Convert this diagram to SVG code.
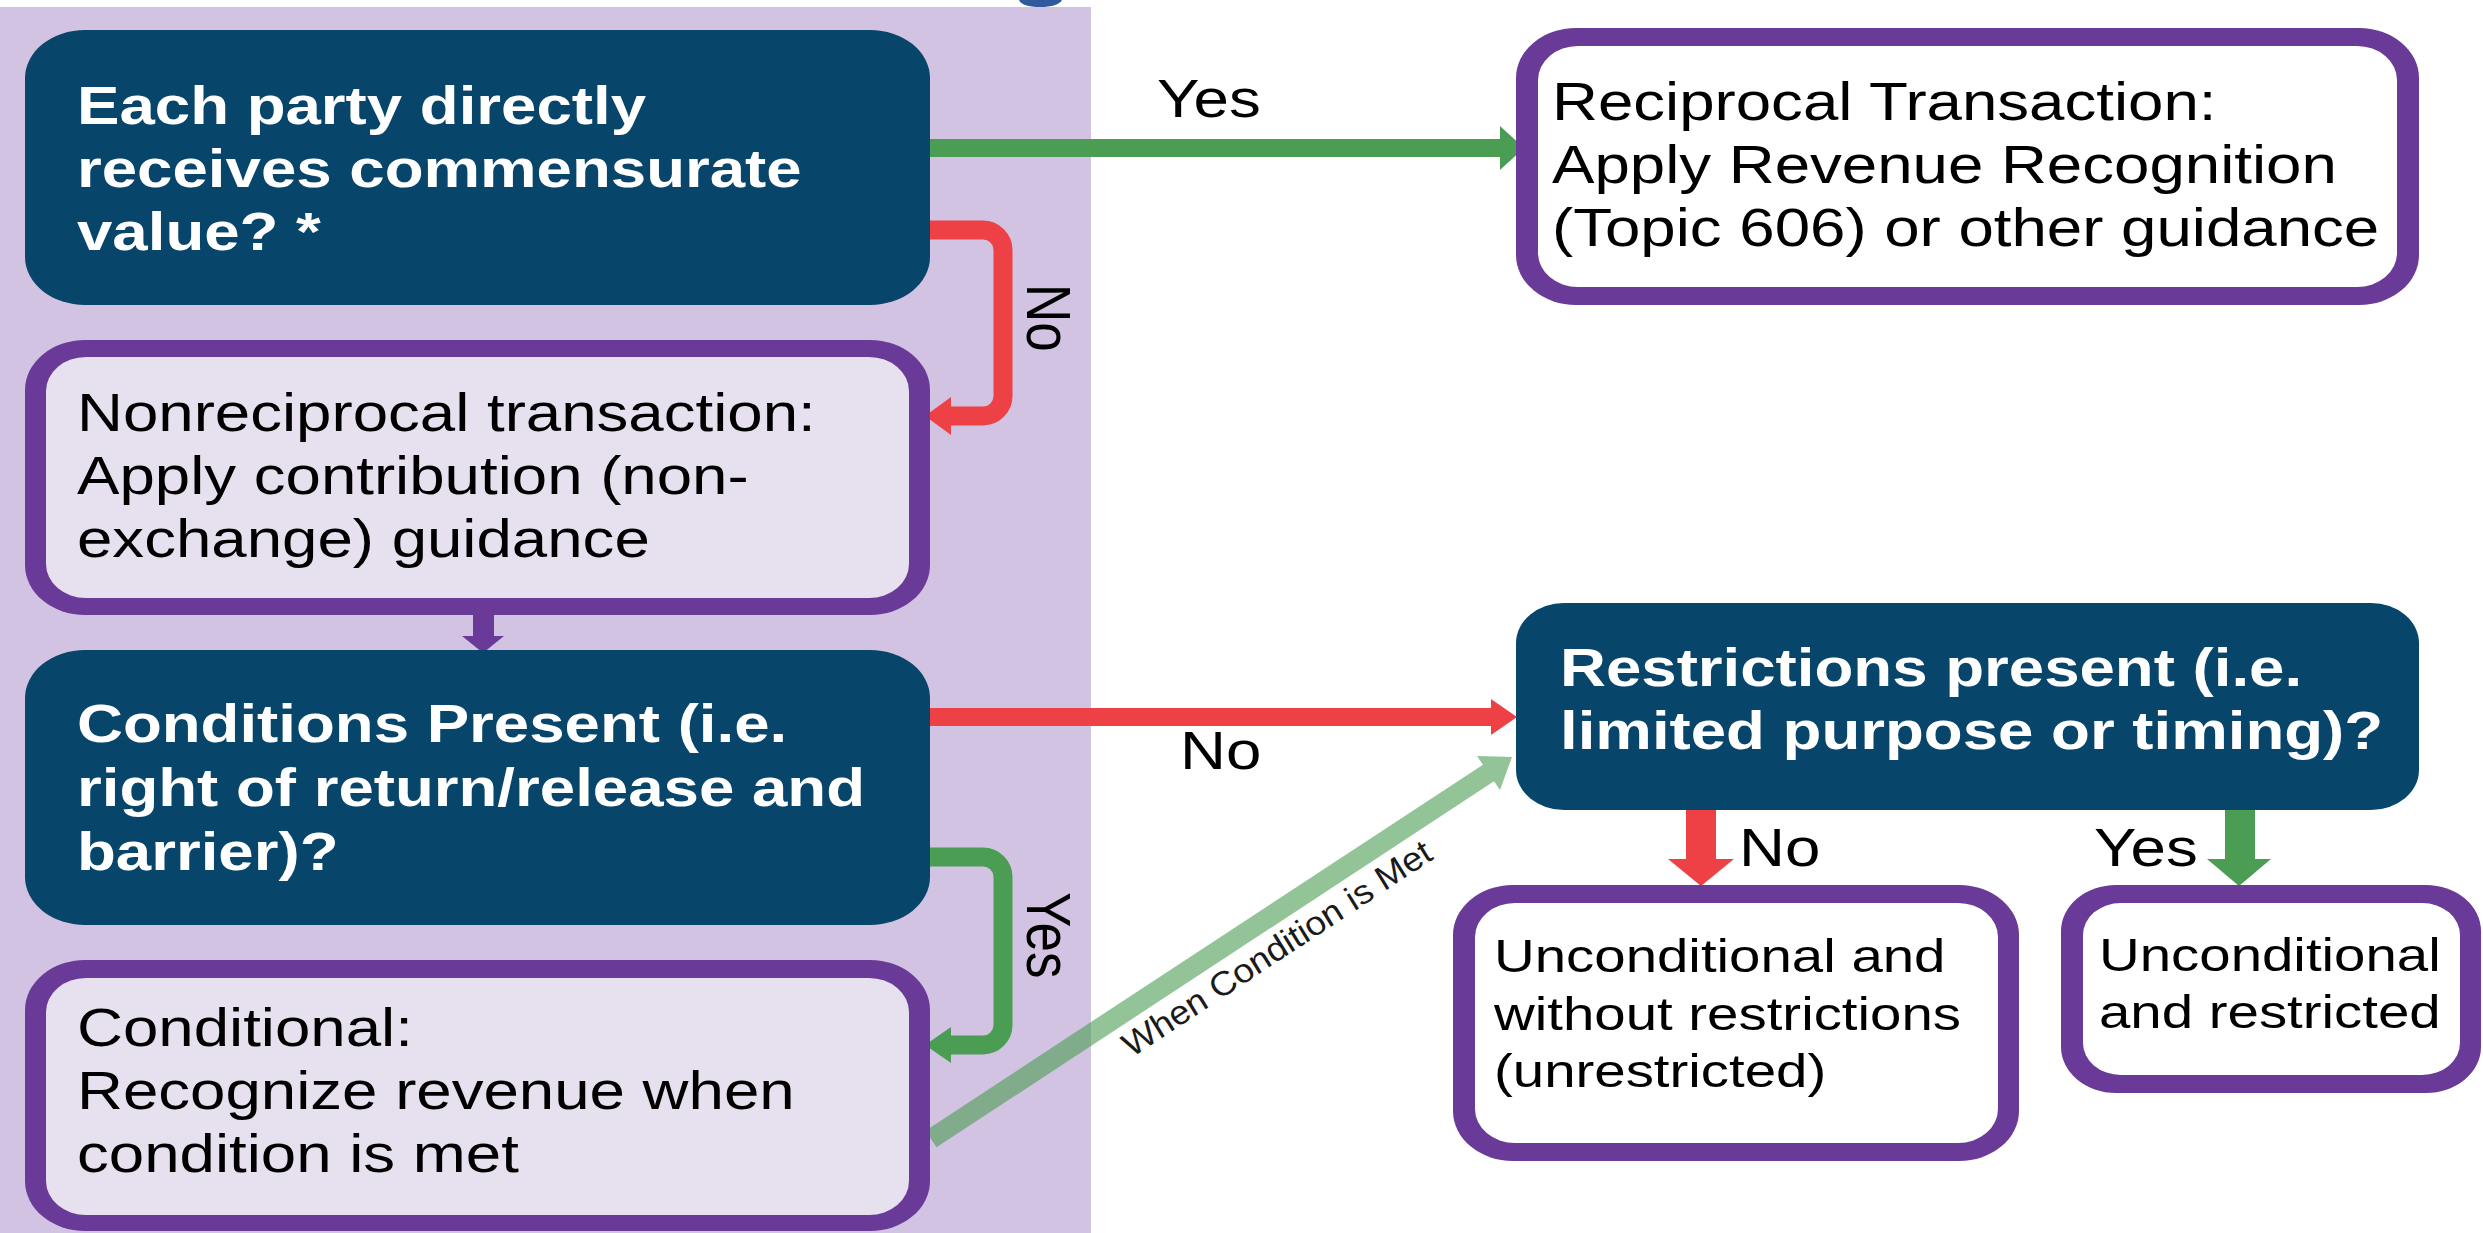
<svg xmlns="http://www.w3.org/2000/svg" width="2483" height="1233" viewBox="0 0 2483 1233">
  <style>
    .panel{fill:#D2C3E2}
    .dark{fill:#07456A}
    .rim{fill:#6A3A98}
    .lite{fill:#E7E0EF}
    .white{fill:#FFFFFF}
    text{font-family:"Liberation Sans",Arial,Helvetica,sans-serif;font-size:53px;fill:#000000}
    .wb{fill:#FFFFFF;font-weight:bold}
    .sm{font-size:47px}
    .lbl{font-size:53px}
    .note{font-size:32px;font-style:italic;fill:#1A1A1A}
    .bend{fill:none;stroke-width:19;stroke-linejoin:round}
    .r{stroke:#EE4145}
    .g{stroke:#4A9D53}
    .rf{fill:#EE4145}
    .gf{fill:#4A9D53}
    .pf{fill:#6A3A98}
  </style>

  <!-- background -->
  <rect x="0" y="0" width="2483" height="1233" fill="#FFFFFF"/>
  <rect class="panel" x="0" y="7" width="1091" height="1226"/>
  <path d="M1019,0 Q1022,7 1040,7 Q1058,7 1062,0 Z" fill="#2F5B9E"/>

  <!-- connectors -->
  <g id="connectors">
    <!-- commensurate value: No -> nonreciprocal -->
    <path class="bend r" d="M930,230 H983 A20,20 0 0 1 1003,250 V396 A20,20 0 0 1 983,416 H948"/>
    <polygon class="rf" points="925,416 951,397 951,435"/>
    <text class="lbl" transform="translate(1027,284) scale(1.2,1) rotate(90)">No</text>

    <!-- commensurate value: Yes -> reciprocal -->
    <rect class="gf" x="930" y="139" width="572" height="18"/>
    <polygon class="gf" points="1524,148 1500,126 1500,170"/>
    <text class="lbl" transform="translate(1157,117) scale(1.2,1)">Yes</text>

    <!-- nonreciprocal -> conditions present -->
    <rect class="pf" x="473" y="612" width="21" height="26"/>
    <polygon class="pf" points="462,636 504,636 483,653"/>

    <!-- conditions present: No -> restrictions present -->
    <rect class="rf" x="930" y="708" width="563" height="18"/>
    <polygon class="rf" points="1517,717 1491,699 1491,735"/>
    <text class="lbl" transform="translate(1180,769) scale(1.2,1)">No</text>

    <!-- conditions present: Yes -> conditional -->
    <path class="bend g" d="M930,857 H983 A20,20 0 0 1 1003,877 V1025 A20,20 0 0 1 983,1045 H948"/>
    <polygon class="gf" points="925,1045 951,1027 951,1063"/>
    <text class="lbl" transform="translate(1027,892) scale(1.2,1) rotate(90)">Yes</text>

    <!-- conditional -> restrictions present, once the condition is met -->
    <g opacity="0.6">
      <line x1="931" y1="1139" x2="1490" y2="772" stroke="#4A9D53" stroke-width="20"/>
      <polygon fill="#4A9D53" points="1512,757 1500,790 1477,756"/>
    </g>
    <text class="note" transform="translate(1133,1057) scale(1.2,1) rotate(-38.3)">When Condition is Met</text>

    <!-- restrictions present: No / Yes -->
    <rect class="rf" x="1686" y="810" width="30" height="50"/>
    <polygon class="rf" points="1668,859 1734,859 1701,886"/>
    <text class="lbl" transform="translate(1739,866) scale(1.2,1)">No</text>

    <rect class="gf" x="2225" y="810" width="30" height="50"/>
    <polygon class="gf" points="2207,859 2271,859 2239,886"/>
    <text class="lbl" transform="translate(2094,866) scale(1.2,1)">Yes</text>
  </g>

  <!-- decision: commensurate value -->
  <g id="n-commensurate">
    <rect class="dark" x="25" y="30" width="905" height="275" rx="60" ry="48"/>
    <text class="wb" transform="translate(77,0) scale(1.2,1)"><tspan x="0" y="124">Each party directly</tspan><tspan x="0" y="187">receives commensurate</tspan><tspan x="0" y="250">value? *</tspan></text>
  </g>

  <!-- outcome: nonreciprocal -->
  <g id="n-nonreciprocal">
    <rect class="rim" x="25" y="340" width="905" height="275" rx="60" ry="50"/>
    <rect class="lite" x="46" y="357" width="863" height="241" rx="40" ry="34"/>
    <text transform="translate(77,0) scale(1.2,1)"><tspan x="0" y="431">Nonreciprocal transaction:</tspan><tspan x="0" y="494">Apply contribution (non-</tspan><tspan x="0" y="557">exchange) guidance</tspan></text>
  </g>

  <!-- decision: conditions present -->
  <g id="n-conditions">
    <rect class="dark" x="25" y="650" width="905" height="275" rx="60" ry="48"/>
    <text class="wb" transform="translate(77,0) scale(1.2,1)"><tspan x="0" y="742">Conditions Present (i.e.</tspan><tspan x="0" y="806">right of return/release and</tspan><tspan x="0" y="870">barrier)?</tspan></text>
  </g>

  <!-- outcome: conditional -->
  <g id="n-conditional">
    <rect class="rim" x="25" y="960" width="905" height="271" rx="60" ry="50"/>
    <rect class="lite" x="46" y="978" width="863" height="237" rx="40" ry="34"/>
    <text transform="translate(77,0) scale(1.2,1)"><tspan x="0" y="1046">Conditional:</tspan><tspan x="0" y="1109">Recognize revenue when</tspan><tspan x="0" y="1172">condition is met</tspan></text>
  </g>

  <!-- outcome: reciprocal -->
  <g id="n-reciprocal">
    <rect class="rim" x="1516" y="28" width="903" height="277" rx="60" ry="50"/>
    <rect class="white" x="1538" y="46" width="859" height="241" rx="40" ry="34"/>
    <text transform="translate(1552,0) scale(1.2,1)"><tspan x="0" y="120">Reciprocal Transaction:</tspan><tspan x="0" y="183">Apply Revenue Recognition</tspan><tspan x="0" y="246">(Topic 606) or other guidance</tspan></text>
  </g>

  <!-- decision: restrictions present -->
  <g id="n-restrictions">
    <rect class="dark" x="1516" y="603" width="903" height="207" rx="48" ry="40"/>
    <text class="wb" transform="translate(1560,0) scale(1.2,1)"><tspan x="0" y="686">Restrictions present (i.e.</tspan><tspan x="0" y="749">limited purpose or timing)?</tspan></text>
  </g>

  <!-- outcome: unrestricted -->
  <g id="n-unrestricted">
    <rect class="rim" x="1453" y="885" width="566" height="276" rx="60" ry="50"/>
    <rect class="white" x="1475" y="903" width="523" height="240" rx="40" ry="34"/>
    <text class="sm" transform="translate(1494,0) scale(1.2,1)"><tspan x="0" y="972">Unconditional and</tspan><tspan x="0" y="1030">without restrictions</tspan><tspan x="0" y="1087">(unrestricted)</tspan></text>
  </g>

  <!-- outcome: restricted -->
  <g id="n-restricted">
    <rect class="rim" x="2061" y="885" width="420" height="208" rx="55" ry="46"/>
    <rect class="white" x="2083" y="903" width="377" height="172" rx="38" ry="32"/>
    <text class="sm" transform="translate(2099,0) scale(1.2,1)"><tspan x="0" y="971">Unconditional</tspan><tspan x="0" y="1028">and restricted</tspan></text>
  </g>
</svg>
